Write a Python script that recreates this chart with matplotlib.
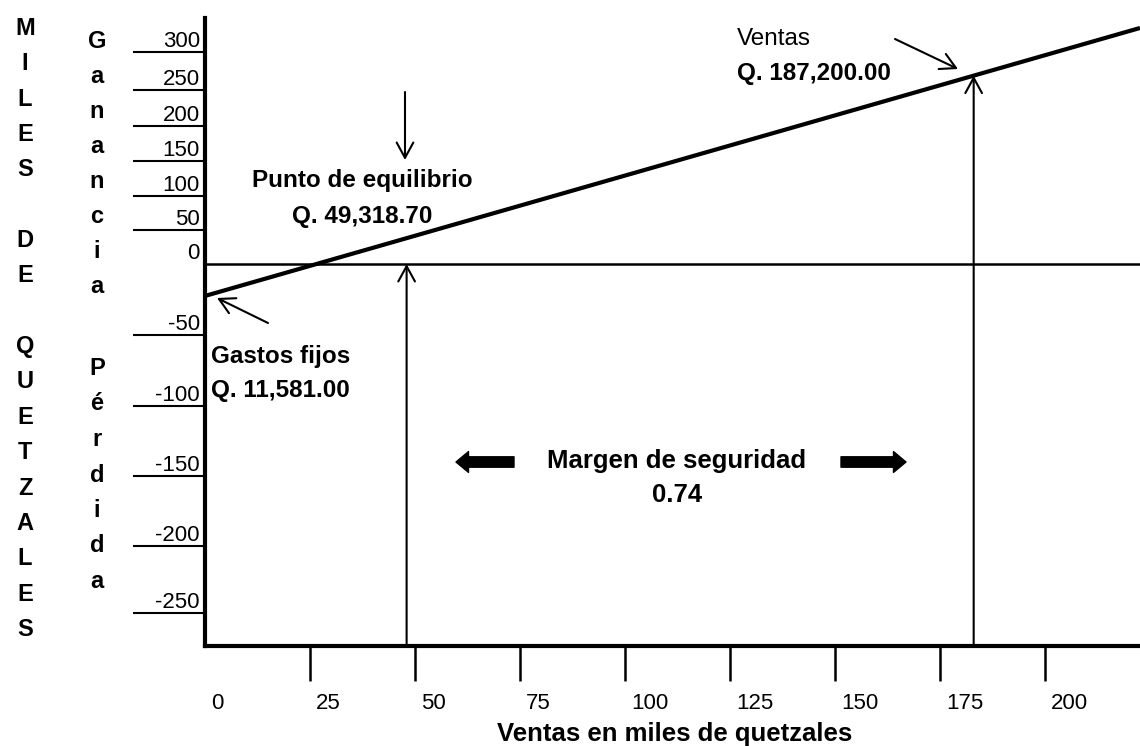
import numpy as np
import matplotlib
matplotlib.use('Agg')
import matplotlib.pyplot as plt
from matplotlib.transforms import ScaledTranslation, blended_transform_factory

plt.rcParams['font.family'] = ['Liberation Sans', 'DejaVu Sans']

# ---------------- data ----------------
ytick_values = [300, 250, 200, 150, 100, 50, 0, -50, -100, -150, -200, -250]
ytick_labels = ['300', '250', '200', '150', '100', '50', '0', '-50', '-100', '-150', '-200', '-250']
xtick_values = [0, 25, 50, 75, 100, 125, 150, 175, 200]
xtick_labels = ['0', '25', '50', '75', '100', '125', '150', '175', '200']

# hand-drawn (irregular) vertical scale of the original: value -> drawn height
scale_values = [-275, -250, -200, -150, -100, -50, 0, 50, 100, 150, 200, 250, 300, 345]
scale_heights = [0, 33, 100, 170, 240, 311, 382, 416, 450, 485, 520, 556, 594, 628]

# sales line (as drawn) and reference points
sales_x = [0, 222.6]
sales_y = [-22.5, 331.8]
breakeven_x = 48
sales_point_x = 183

W, H = 1140, 746


def _extrap(v, xs, ys):
    v = np.asarray(v, dtype=float)
    out = np.interp(v, xs, ys)
    out = np.where(v < xs[0], ys[0] + (v - xs[0]) * (ys[1] - ys[0]) / (xs[1] - xs[0]), out)
    out = np.where(v > xs[-1], ys[-1] + (v - xs[-1]) * (ys[-1] - ys[-2]) / (xs[-1] - xs[-2]), out)
    return out


def fwd(v):
    return _extrap(v, scale_values, scale_heights)


def inv(u):
    return _extrap(u, scale_heights, scale_values)


fig = plt.figure(figsize=(W / 100, H / 100), dpi=100)
ax = fig.add_axes([205 / W, (H - 646) / H, 935 / W, 628 / H])
ax.set_yscale('function', functions=(fwd, inv))
ax.set_xlim(0, 222.6)
ax.set_ylim(-275, 345)

for s in ['top', 'right']:
    ax.spines[s].set_visible(False)
ax.spines['left'].set_linewidth(3)
ax.spines['bottom'].set_linewidth(3)

# ticks
ax.set_yticks([v for v in ytick_values if v != 0])
ax.set_yticks([], minor=True)
ax.set_xticks([v for v in xtick_values if v != 0])
ax.tick_params(axis='y', which='major', length=52, width=1.5, direction='out',
               labelleft=False)
ax.tick_params(axis='x', which='major', length=25, width=1.8, direction='out',
               labelbottom=False)
ax.tick_params(which='minor', length=0)

ytrans = blended_transform_factory(ax.transAxes, ax.transData) + \
    ScaledTranslation(-0.05, 0.05, fig.dpi_scale_trans)
for v, lab in zip(ytick_values, ytick_labels):
    ax.text(0, v, lab, transform=ytrans, ha='right', va='baseline', fontsize=16)

xtrans = blended_transform_factory(ax.transData, ax.transAxes) + \
    ScaledTranslation(0.06, -0.63, fig.dpi_scale_trans)
for v, lab in zip(xtick_values, xtick_labels):
    ax.text(v, 0, lab, transform=xtrans, ha='left', va='baseline', fontsize=16)

# zero line and sales line
ax.axhline(0, color='black', lw=1.8)
ax.plot(sales_x, sales_y, color='black', lw=3, solid_capstyle='butt')

# vertical arrows from the x axis
u_line = np.interp(sales_point_x, sales_x, fwd(sales_y))
y_at_sales = float(inv(u_line))
thin = dict(arrowstyle='->,head_length=0.55,head_width=0.3', lw=1.5, color='black',
            shrinkA=0, shrinkB=0, mutation_scale=20)
ax.annotate('', xy=(breakeven_x, 0), xytext=(breakeven_x, -275), arrowprops=thin)
ax.annotate('', xy=(sales_point_x, y_at_sales), xytext=(sales_point_x, -275), arrowprops=thin)


def fp(x, y):
    return (x, H - y)


# annotation arrows
ax.annotate('', xy=fp(405, 160), xytext=fp(405, 92), xycoords='figure pixels',
            textcoords='figure pixels', arrowprops=thin)
ax.annotate('', xy=fp(958, 69), xytext=fp(895, 39), xycoords='figure pixels',
            textcoords='figure pixels', arrowprops=thin)
ax.annotate('', xy=fp(217, 298), xytext=fp(268, 323), xycoords='figure pixels',
            textcoords='figure pixels', arrowprops=thin)

thick = dict(arrowstyle='simple,head_length=0.6,head_width=1.0,tail_width=0.5',
             color='black', shrinkA=0, shrinkB=0, mutation_scale=15)
ax.annotate('', xy=fp(456, 462), xytext=fp(514, 462), xycoords='figure pixels',
            textcoords='figure pixels', arrowprops=thick)
ax.annotate('', xy=fp(906, 462), xytext=fp(841, 462), xycoords='figure pixels',
            textcoords='figure pixels', arrowprops=thick)


def ftext(x, y, s, **kw):
    fig.text(x / W, 1 - y / H, s, **kw)


# annotation texts
ftext(362, 187, 'Punto de equilibrio', ha='center', va='baseline', fontsize=17.5, fontweight='bold')
ftext(362, 223, 'Q. 49,318.70', ha='center', va='baseline', fontsize=17.5, fontweight='bold')
ftext(737, 45, 'Ventas', ha='left', va='baseline', fontsize=17.5)
ftext(737, 80, 'Q. 187,200.00', ha='left', va='baseline', fontsize=17.5, fontweight='bold')
ftext(211, 363, 'Gastos fijos', ha='left', va='baseline', fontsize=17.5, fontweight='bold')
ftext(211, 397, 'Q. 11,581.00', ha='left', va='baseline', fontsize=17.5, fontweight='bold')
ftext(677, 468, 'Margen de seguridad', ha='center', va='baseline', fontsize=18.5, fontweight='bold')
ftext(677, 502, '0.74', ha='center', va='baseline', fontsize=18.5, fontweight='bold')

# axis title
ftext(675, 741, 'Ventas en miles de quetzales', ha='center', va='baseline',
      fontsize=18.5, fontweight='bold')

# vertical letter labels
for k, ch in enumerate('MILES DE QUETZALES'):
    ftext(25, 35 + 35.35 * k, ch, ha='center', va='baseline', fontsize=17, fontweight='bold')
for k, ch in enumerate('Ganancia'):
    ftext(97, 48 + 35 * k, ch, ha='center', va='baseline', fontsize=17, fontweight='bold')
for k, ch in enumerate('Pérdida'):
    ftext(97, 375 + 35.5 * k, ch, ha='center', va='baseline', fontsize=17, fontweight='bold')

fig.savefig('out.png', dpi=100)
